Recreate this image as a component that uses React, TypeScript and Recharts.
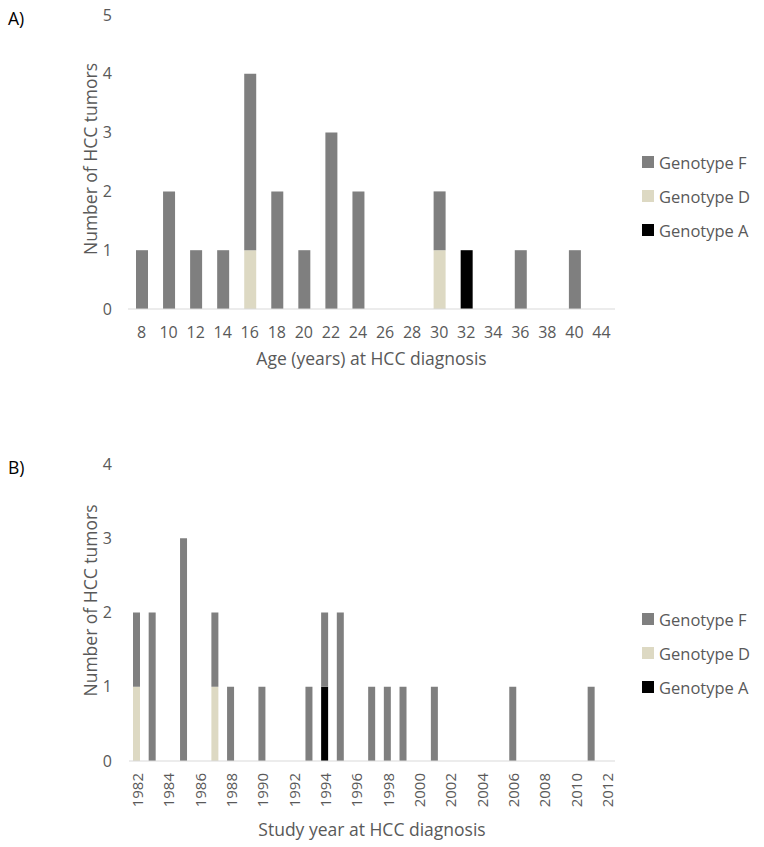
import React from 'react';
import { BarChart, Bar, XAxis, YAxis, Legend, Label } from 'recharts';

// ---- Panel A data: age at HCC diagnosis ----
const ageCategories = ['8', '10', '12', '14', '16', '18', '20', '22', '24', '26', '28', '30', '32', '34', '36', '38', '40', '44'];
const ageGenotypeF = [1, 2, 1, 1, 3, 2, 1, 3, 2, 0, 0, 1, 0, 0, 1, 0, 1, 0];
const ageGenotypeD = [0, 0, 0, 0, 1, 0, 0, 0, 0, 0, 0, 1, 0, 0, 0, 0, 0, 0];
const ageGenotypeA = [0, 0, 0, 0, 0, 0, 0, 0, 0, 0, 0, 0, 1, 0, 0, 0, 0, 0];
const ageTicks = [0, 1, 2, 3, 4, 5];

// ---- Panel B data: study year at HCC diagnosis ----
const yearCategories = [
  '1982', '1983', '1984', '1985', '1986', '1987', '1988', '1989', '1990', '1991',
  '1992', '1993', '1994', '1995', '1996', '1997', '1998', '1999', '2000', '2001',
  '2002', '2003', '2004', '2005', '2006', '2007', '2008', '2009', '2010', '2011', '2012',
];
const yearGenotypeF = [1, 2, 0, 3, 0, 1, 1, 0, 1, 0, 0, 1, 1, 2, 0, 1, 1, 1, 0, 1, 0, 0, 0, 0, 1, 0, 0, 0, 0, 1, 0];
const yearGenotypeD = [1, 0, 0, 0, 0, 1, 0, 0, 0, 0, 0, 0, 0, 0, 0, 0, 0, 0, 0, 0, 0, 0, 0, 0, 0, 0, 0, 0, 0, 0, 0];
const yearGenotypeA = [0, 0, 0, 0, 0, 0, 0, 0, 0, 0, 0, 0, 1, 0, 0, 0, 0, 0, 0, 0, 0, 0, 0, 0, 0, 0, 0, 0, 0, 0, 0];
const yearTicks = [0, 1, 2, 3, 4];

const seriesNames = { A: 'Genotype A', D: 'Genotype D', F: 'Genotype F' };

const ageData = ageCategories.map((c, i) => ({ cat: c, A: ageGenotypeA[i], D: ageGenotypeD[i], F: ageGenotypeF[i] }));
const yearData = yearCategories.map((c, i) => ({ cat: c, A: yearGenotypeA[i], D: yearGenotypeD[i], F: yearGenotypeF[i] }));

const FONT = '"Open Sans", "Noto Sans", sans-serif';
const TEXT = '#595959';
const COLORS = { A: '#000000', D: '#ddd9c3', F: '#7f7f7f' };
const TICK_FS = 16;
const TITLE_FS = 17.5;
const LEGEND_FS = 16.5;

const LegendContent = (props: any) => {
  const items = [...(props.payload || [])].reverse();
  return (
    <div style={{ fontFamily: FONT, fontSize: LEGEND_FS, color: TEXT }}>
      {items.map((it: any) => (
        <div key={it.value} style={{ height: 34, display: 'flex', alignItems: 'center', whiteSpace: 'nowrap' }}>
          <span style={{ display: 'inline-block', width: 12, height: 12, background: it.color, marginRight: 5 }} />
          <span>{it.value}</span>
        </div>
      ))}
    </div>
  );
};

const makeYTitle = (dyShift: number) => (props: any) => {
  const vb = props.viewBox || { x: 0, y: 0, width: 0, height: 0 };
  const cx = vb.x + 90;
  const cy = vb.y + vb.height / 2 + dyShift;
  return (
    <text x={cx} y={cy} transform={`rotate(-90 ${cx} ${cy})`} textAnchor="middle" dominantBaseline="central"
      fill={TEXT} fontSize={TITLE_FS} fontFamily={FONT}>
      Number of HCC tumors
    </text>
  );
};

const makeXTitle = (text: string, dy: number) => (props: any) => {
  const vb = props.viewBox || { x: 0, y: 0, width: 0, height: 0 };
  const cx = vb.x + vb.width / 2;
  const cy = vb.y + dy;
  return (
    <text x={cx} y={cy} textAnchor="middle" dominantBaseline="central" fill={TEXT} fontSize={TITLE_FS} fontFamily={FONT}>
      {text}
    </text>
  );
};

const YearTick = (props: any) => {
  const { x, y, payload } = props;
  return (
    <text x={x} y={y} transform={`rotate(-90 ${x} ${y})`} textAnchor="end" dominantBaseline="central"
      fill={TEXT} fontSize={15} fontFamily={FONT}>
      {payload.value}
    </text>
  );
};

const tickStyle = { fill: TEXT, fontSize: TICK_FS, fontFamily: FONT };

export default function App() {
  return (
    <div style={{ position: 'absolute', left: 0, top: 0, width: 764, height: 847, background: '#fff', fontFamily: FONT }}>
      <div style={{ position: 'absolute', left: 8, top: 6, fontSize: TITLE_FS, color: '#000', fontFamily: FONT, lineHeight: 'normal' }}>A)</div>
      <div style={{ position: 'absolute', left: 8, top: 455, fontSize: TITLE_FS, color: '#000', fontFamily: FONT, lineHeight: 'normal' }}>B)</div>

      <div style={{ position: 'absolute', left: 0, top: 0 }}>
        <BarChart width={764} height={380} data={ageData} margin={{ top: 15, right: 149, bottom: 0, left: 0 }} barSize={12}>
          <XAxis dataKey="cat" type="category" height={71} axisLine={{ stroke: '#d9d9d9' }} tickLine={false}
            tickSize={0} tickMargin={18} tick={tickStyle} interval={0}>
            <Label content={makeXTitle('Age (years) at HCC diagnosis', 49)} />
          </XAxis>
          <YAxis width={128} domain={[0, 5]} ticks={ageTicks} axisLine={false} tickLine={false}
            tickSize={0} tickMargin={16} tick={tickStyle}>
            <Label content={makeYTitle(-3)} />
          </YAxis>
          <Legend layout="vertical" align="center" verticalAlign="middle" content={LegendContent}
            wrapperStyle={{ left: 642, top: 145, width: 122 }} />
          <Bar dataKey="A" name={seriesNames.A} stackId="s" fill={COLORS.A} isAnimationActive={false} />
          <Bar dataKey="D" name={seriesNames.D} stackId="s" fill={COLORS.D} isAnimationActive={false} />
          <Bar dataKey="F" name={seriesNames.F} stackId="s" fill={COLORS.F} isAnimationActive={false} />
        </BarChart>
      </div>

      <div style={{ position: 'absolute', left: 0, top: 420 }}>
        <BarChart width={764} height={427} data={yearData} margin={{ top: 44, right: 149, bottom: 0, left: 0 }} barSize={7}>
          <XAxis dataKey="cat" type="category" height={86} axisLine={{ stroke: '#d9d9d9' }} tickLine={false}
            tickSize={0} tickMargin={12} tick={<YearTick />} interval={1}>
            <Label content={makeXTitle('Study year at HCC diagnosis', 68)} />
          </XAxis>
          <YAxis width={129} domain={[0, 4]} ticks={yearTicks} axisLine={false} tickLine={false}
            tickSize={0} tickMargin={17} tick={tickStyle}>
            <Label content={makeYTitle(-12)} />
          </YAxis>
          <Legend layout="vertical" align="center" verticalAlign="middle" content={LegendContent}
            wrapperStyle={{ left: 642, top: 182, width: 122 }} />
          <Bar dataKey="A" name={seriesNames.A} stackId="s" fill={COLORS.A} isAnimationActive={false} />
          <Bar dataKey="D" name={seriesNames.D} stackId="s" fill={COLORS.D} isAnimationActive={false} />
          <Bar dataKey="F" name={seriesNames.F} stackId="s" fill={COLORS.F} isAnimationActive={false} />
        </BarChart>
      </div>
    </div>
  );
}
